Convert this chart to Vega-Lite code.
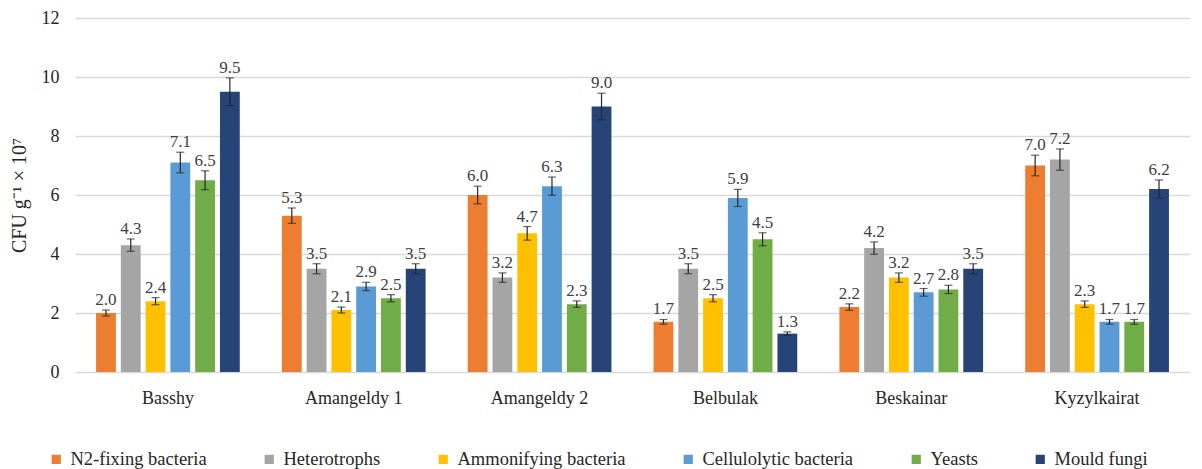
{
  "$schema": "https://vega.github.io/schema/vega-lite/v6.json",
  "width": 1115,
  "height": 354,
  "autosize": {"type": "none"},
  "padding": {"left": 75, "top": 18, "right": 12, "bottom": 97},
  "background": "white",
  "config": {
    "view": {"stroke": null},
    "font": "Liberation Serif",
    "text": {"font": "Liberation Serif"},
    "axis": {"labelFont": "Liberation Serif", "titleFont": "Liberation Serif"},
    "legend": {"labelFont": "Liberation Serif"}
  },
  "data": {
    "values": [
      {"site": "Basshy", "series": "N2-fixing bacteria", "value": 2.0, "lo": 1.9, "hi": 2.1},
      {"site": "Basshy", "series": "Heterotrophs", "value": 4.3, "lo": 4.09, "hi": 4.51},
      {"site": "Basshy", "series": "Ammonifying bacteria", "value": 2.4, "lo": 2.28, "hi": 2.52},
      {"site": "Basshy", "series": "Cellulolytic bacteria", "value": 7.1, "lo": 6.75, "hi": 7.45},
      {"site": "Basshy", "series": "Yeasts", "value": 6.5, "lo": 6.18, "hi": 6.82},
      {"site": "Basshy", "series": "Mould fungi", "value": 9.5, "lo": 9.03, "hi": 9.97},
      {"site": "Amangeldy 1", "series": "N2-fixing bacteria", "value": 5.3, "lo": 5.04, "hi": 5.56},
      {"site": "Amangeldy 1", "series": "Heterotrophs", "value": 3.5, "lo": 3.33, "hi": 3.67},
      {"site": "Amangeldy 1", "series": "Ammonifying bacteria", "value": 2.1, "lo": 2.0, "hi": 2.2},
      {"site": "Amangeldy 1", "series": "Cellulolytic bacteria", "value": 2.9, "lo": 2.76, "hi": 3.04},
      {"site": "Amangeldy 1", "series": "Yeasts", "value": 2.5, "lo": 2.38, "hi": 2.62},
      {"site": "Amangeldy 1", "series": "Mould fungi", "value": 3.5, "lo": 3.33, "hi": 3.67},
      {"site": "Amangeldy 2", "series": "N2-fixing bacteria", "value": 6.0, "lo": 5.7, "hi": 6.3},
      {"site": "Amangeldy 2", "series": "Heterotrophs", "value": 3.2, "lo": 3.04, "hi": 3.36},
      {"site": "Amangeldy 2", "series": "Ammonifying bacteria", "value": 4.7, "lo": 4.47, "hi": 4.93},
      {"site": "Amangeldy 2", "series": "Cellulolytic bacteria", "value": 6.3, "lo": 5.99, "hi": 6.61},
      {"site": "Amangeldy 2", "series": "Yeasts", "value": 2.3, "lo": 2.19, "hi": 2.41},
      {"site": "Amangeldy 2", "series": "Mould fungi", "value": 9.0, "lo": 8.55, "hi": 9.45},
      {"site": "Belbulak", "series": "N2-fixing bacteria", "value": 1.7, "lo": 1.62, "hi": 1.78},
      {"site": "Belbulak", "series": "Heterotrophs", "value": 3.5, "lo": 3.33, "hi": 3.67},
      {"site": "Belbulak", "series": "Ammonifying bacteria", "value": 2.5, "lo": 2.38, "hi": 2.62},
      {"site": "Belbulak", "series": "Cellulolytic bacteria", "value": 5.9, "lo": 5.61, "hi": 6.19},
      {"site": "Belbulak", "series": "Yeasts", "value": 4.5, "lo": 4.28, "hi": 4.72},
      {"site": "Belbulak", "series": "Mould fungi", "value": 1.3, "lo": 1.24, "hi": 1.36},
      {"site": "Beskainar", "series": "N2-fixing bacteria", "value": 2.2, "lo": 2.09, "hi": 2.31},
      {"site": "Beskainar", "series": "Heterotrophs", "value": 4.2, "lo": 3.99, "hi": 4.41},
      {"site": "Beskainar", "series": "Ammonifying bacteria", "value": 3.2, "lo": 3.04, "hi": 3.36},
      {"site": "Beskainar", "series": "Cellulolytic bacteria", "value": 2.7, "lo": 2.57, "hi": 2.83},
      {"site": "Beskainar", "series": "Yeasts", "value": 2.8, "lo": 2.66, "hi": 2.94},
      {"site": "Beskainar", "series": "Mould fungi", "value": 3.5, "lo": 3.33, "hi": 3.67},
      {"site": "Kyzylkairat", "series": "N2-fixing bacteria", "value": 7.0, "lo": 6.65, "hi": 7.35},
      {"site": "Kyzylkairat", "series": "Heterotrophs", "value": 7.2, "lo": 6.84, "hi": 7.56},
      {"site": "Kyzylkairat", "series": "Ammonifying bacteria", "value": 2.3, "lo": 2.19, "hi": 2.41},
      {"site": "Kyzylkairat", "series": "Cellulolytic bacteria", "value": 1.7, "lo": 1.62, "hi": 1.78},
      {"site": "Kyzylkairat", "series": "Yeasts", "value": 1.7, "lo": 1.62, "hi": 1.78},
      {"site": "Kyzylkairat", "series": "Mould fungi", "value": 6.2, "lo": 5.89, "hi": 6.51}
    ]
  },
  "encoding": {
    "x": {
      "field": "site", "type": "nominal",
      "sort": ["Basshy", "Amangeldy 1", "Amangeldy 2", "Belbulak", "Beskainar", "Kyzylkairat"],
      "scale": {"paddingInner": 0.2, "paddingOuter": 0.1},
      "axis": {"title": null, "labelAngle": 0, "domain": false, "ticks": false, "labelPadding": 17, "labelFont": "Liberation Serif", "labelFontSize": 18, "labelColor": "#262626"}
    },
    "xOffset": {
      "field": "series", "type": "nominal",
      "sort": ["N2-fixing bacteria", "Heterotrophs", "Ammonifying bacteria", "Cellulolytic bacteria", "Yeasts", "Mould fungi"],
      "scale": {"paddingInner": 0.2, "paddingOuter": 0.1}
    }
  },
  "layer": [
    {
      "mark": {"type": "bar"},
      "encoding": {
        "y": {
          "field": "value", "type": "quantitative",
          "scale": {"domain": [0, 12], "nice": false},
          "axis": {
            "title": "CFU g⁻¹ × 10⁷", "values": [0, 2, 4, 6, 8, 10, 12],
            "domain": false, "ticks": false, "gridColor": "#d9d9d9", "gridWidth": 1.3,
            "labelPadding": 16, "labelFont": "Liberation Serif", "labelFontSize": 18, "labelColor": "#262626",
            "titleFont": "Liberation Serif", "titleFontSize": 20, "titleFontWeight": "normal", "titleColor": "#262626", "titlePadding": 12
          }
        },
        "color": {
          "field": "series", "type": "nominal",
          "scale": {
            "domain": ["N2-fixing bacteria", "Heterotrophs", "Ammonifying bacteria", "Cellulolytic bacteria", "Yeasts", "Mould fungi"],
            "range": ["#ED7D31", "#A5A5A5", "#FFC000", "#5B9BD5", "#70AD47", "#264478"]
          },
          "legend": {
            "title": null, "orient": "none", "direction": "horizontal", "legendX": -28, "legendY": 432,
            "symbolType": "square", "symbolSize": 85, "symbolStrokeWidth": 0, "symbolOpacity": 1,
            "labelFont": "Liberation Serif", "labelFontSize": 18.5, "labelColor": "#262626", "labelLimit": 400,
            "columnPadding": 53, "labelOffset": 5
          }
        }
      }
    },
    {
      "mark": {"type": "rule", "color": "#262626", "strokeWidth": 1.2},
      "encoding": {
        "y": {"field": "lo", "type": "quantitative"},
        "y2": {"field": "hi"}
      }
    },
    {
      "mark": {"type": "tick", "color": "#262626", "size": 8, "thickness": 1.2},
      "encoding": {"y": {"field": "lo", "type": "quantitative"}}
    },
    {
      "mark": {"type": "tick", "color": "#262626", "size": 8, "thickness": 1.2},
      "encoding": {"y": {"field": "hi", "type": "quantitative"}}
    },
    {
      "mark": {"type": "text", "font": "Liberation Serif", "baseline": "alphabetic", "dy": -5, "fontSize": 17, "color": "#404040"},
      "encoding": {
        "y": {"field": "hi", "type": "quantitative"},
        "text": {"field": "value", "type": "quantitative", "format": ".1f"}
      }
    }
  ]
}
